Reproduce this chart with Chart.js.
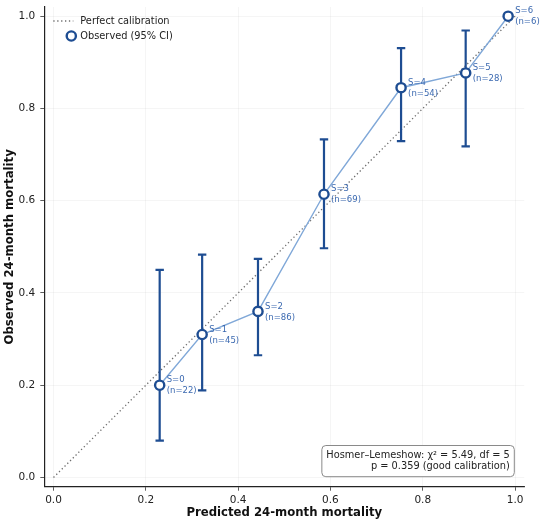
<!DOCTYPE html>
<html>
<head>
<meta charset="utf-8">
<script src="https://cdn.jsdelivr.net/npm/chart.js@4.4.1/dist/chart.umd.min.js"></script>
<style>
  html, body { margin: 0; padding: 0; background: #ffffff; }
  #wrap { width: 550px; height: 529px; }
</style>
</head>
<body>
<div id="wrap"><canvas id="c" width="550" height="529"></canvas></div>
<script>
// ---- data ----
const categories = ['S=0', 'S=1', 'S=2', 'S=3', 'S=4', 'S=5', 'S=6'];
const nCounts    = [22, 45, 86, 69, 54, 28, 6];
const predicted  = [0.230, 0.322, 0.443, 0.586, 0.753, 0.893, 0.985];
const observed   = [0.200, 0.310, 0.360, 0.614, 0.845, 0.877, 1.000];
const ciLower    = [0.080, 0.189, 0.265, 0.497, 0.729, 0.718, null];
const ciUpper    = [0.450, 0.483, 0.474, 0.733, 0.931, 0.969, null];
const diagonal   = [0, 1];
const tickValues = [0.0, 0.2, 0.4, 0.6, 0.8, 1.0];
const legendLabels = ['Perfect calibration', 'Observed (95% CI)'];
const hlText = ['Hosmer–Lemeshow: χ² = 5.49, df = 5', 'p = 0.359 (good calibration)'];
const xTitle = 'Predicted 24-month mortality';
const yTitle = 'Observed 24-month mortality';

// ---- styles ----
const DARK = '#1e4d92';
const LIGHT = '#80a8d8';
const LABEL = '#3b69b0';
const FONT = "'DejaVu Sans', sans-serif";
Chart.defaults.font.family = FONT;

const points = predicted.map((x, i) => ({ x: x, y: observed[i] }));

const errorSets = [];
predicted.forEach((x, i) => {
  if (ciLower[i] == null || ciUpper[i] == null) return;
  errorSets.push({
    type: 'scatter',
    data: [{ x: x, y: ciLower[i] }, { x: x, y: ciUpper[i] }],
    showLine: true,
    borderColor: DARK,
    borderWidth: 2.2,
    pointStyle: 'line',
    pointRadius: 4.2,
    pointBorderWidth: 2.2,
    pointBorderColor: DARK,
    order: 2
  });
});

const datasets = [
  {
    type: 'scatter',
    data: points,
    showLine: false,
    pointRadius: 4.6,
    pointBorderWidth: 2.4,
    pointBackgroundColor: '#ffffff',
    pointBorderColor: DARK,
    order: 1
  },
  ...errorSets,
  {
    type: 'scatter',
    data: points,
    showLine: true,
    borderColor: LIGHT,
    borderWidth: 1.4,
    pointRadius: 0,
    order: 3
  },
  {
    type: 'scatter',
    data: diagonal.map(v => ({ x: v, y: v })),
    showLine: true,
    borderColor: '#6e6e6e',
    borderWidth: 1.3,
    borderDash: [1.3, 2.6],
    pointRadius: 0,
    order: 4
  }
];

const overlay = {
  id: 'overlay',
  afterDatasetsDraw(chart) {
    const ctx = chart.ctx;
    const xs = chart.scales.x, ys = chart.scales.y;
    const area = chart.chartArea;
    ctx.save();
    // point labels
    ctx.font = "8.5px " + FONT;
    ctx.fillStyle = LABEL;
    ctx.textAlign = 'left';
    ctx.textBaseline = 'middle';
    predicted.forEach((x, i) => {
      const px = xs.getPixelForValue(x);
      const py = ys.getPixelForValue(observed[i]);
      ctx.fillText(categories[i], px + 7, py - 5);
      ctx.fillText('(n=' + nCounts[i] + ')', px + 7, py + 6);
    });
    // legend
    const lx = area.left + 9, ly1 = area.top + 14, ly2 = area.top + 29;
    ctx.strokeStyle = '#6e6e6e';
    ctx.lineWidth = 1.3;
    ctx.setLineDash([1.3, 2.6]);
    ctx.beginPath();
    ctx.moveTo(lx, ly1); ctx.lineTo(lx + 20, ly1);
    ctx.stroke();
    ctx.setLineDash([]);
    ctx.strokeStyle = DARK;
    ctx.lineWidth = 2.4;
    ctx.fillStyle = '#ffffff';
    ctx.beginPath();
    ctx.arc(lx + 18, ly2, 4.6, 0, Math.PI * 2);
    ctx.fill(); ctx.stroke();
    ctx.font = "9.8px " + FONT;
    ctx.fillStyle = '#222222';
    ctx.textBaseline = 'middle';
    ctx.fillText(legendLabels[0], lx + 27, ly1);
    ctx.fillText(legendLabels[1], lx + 27, ly2);
    // Hosmer-Lemeshow box
    ctx.font = "9.8px " + FONT;
    const w = Math.max(...hlText.map(t => ctx.measureText(t).width));
    const right = area.right - 10, bottom = area.bottom - 10;
    const padX = 4.5, lineH = 11.6;
    const bw = w + 2 * padX, bh = lineH * hlText.length + 8;
    const left = right - bw, top = bottom - bh;
    ctx.beginPath();
    if (ctx.roundRect) ctx.roundRect(left, top, bw, bh, 4); else ctx.rect(left, top, bw, bh);
    ctx.fillStyle = '#ffffff';
    ctx.fill();
    ctx.strokeStyle = '#8a8a8a';
    ctx.lineWidth = 1;
    ctx.stroke();
    ctx.fillStyle = '#222222';
    ctx.textAlign = 'right';
    hlText.forEach((t, i) => ctx.fillText(t, right - padX, top + 4 + lineH * (i + 0.5)));
    ctx.restore();
  }
};

function axisCommon(titleText, titlePad, tickPad) {
  return {
    type: 'linear',
    min: -0.02,
    max: 1.02,
    afterBuildTicks: s => { s.ticks = tickValues.map(v => ({ value: v })); },
    ticks: {
      callback: v => Number(v).toFixed(1),
      font: { size: 10.5, family: FONT },
      color: '#222222',
      padding: tickPad
    },
    grid: {
      color: 'rgba(0,0,0,0.05)',
      tickColor: '#333333',
      tickLength: 4,
      lineWidth: 0.8
    },
    border: { color: '#222222', width: 1.2 },
    title: {
      display: true,
      text: titleText,
      font: { size: 11.7, weight: 'bold', family: FONT },
      color: '#111111',
      padding: titlePad
    }
  };
}

const xAxis = axisCommon(xTitle, { top: 0, bottom: 9 }, 3);
xAxis.afterFit = s => { s.height = 42.3; s.paddingLeft = 0; s.paddingRight = 0; };
const yAxis = axisCommon(yTitle, { top: 3, bottom: 0 }, 5);
yAxis.afterFit = s => { s.width = 44.3; s.paddingTop = 0; s.paddingBottom = 0; };

new Chart(document.getElementById('c'), {
  type: 'scatter',
  data: { datasets: datasets },
  options: {
    responsive: false,
    animation: false,
    layout: { padding: { top: 5, right: 25.7, left: 0, bottom: 0 } },
    plugins: { legend: { display: false }, tooltip: { enabled: false } },
    scales: { x: xAxis, y: yAxis }
  },
  plugins: [overlay]
});
</script>
</body>
</html>
